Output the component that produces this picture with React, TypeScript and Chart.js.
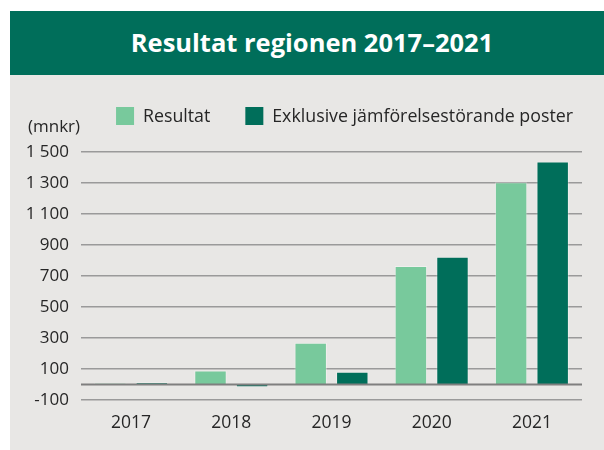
import React, { useEffect, useRef } from "react";
import { Chart, registerables } from "chart.js";

Chart.register(...registerables);

const TITLE = "Resultat regionen 2017–2021";
const UNIT_LABEL = "(mnkr)";
const CATEGORIES = ["2017", "2018", "2019", "2020", "2021"];
const SERIES_NAMES = ["Resultat", "Exklusive jämförelsestörande poster"];
const RESULTAT = [10, 90, 270, 765, 1305];
const EXKLUSIVE = [15, -18, 82, 824, 1438];
const Y_MIN = -100;
const Y_MAX = 1500;
const Y_STEP = 200;

const LIGHT = "#78c99c";
const DARK = "#006e5a";
const BG = "#e8e7e5";
const TEXT = "#262626";
const FONT = "'Open Sans', sans-serif";

const formatTick = (v: number) => {
  const s = Math.abs(v).toString();
  const withSpace = s.length > 3 ? s.slice(0, s.length - 3) + " " + s.slice(s.length - 3) : s;
  return (v < 0 ? "-" : "") + withSpace;
};

const extrasPlugin = {
  id: "extras",
  afterDatasetsDraw(chart: any) {
    const { ctx, chartArea, scales } = chart;
    const y0 = scales.y.getPixelForValue(0);
    ctx.save();
    ctx.strokeStyle = "#7f7f7f";
    ctx.lineWidth = 2;
    ctx.beginPath();
    ctx.moveTo(chartArea.left, y0);
    ctx.lineTo(chartArea.right, y0);
    ctx.stroke();
    ctx.restore();
  },
  afterDraw(chart: any) {
    const { ctx, chartArea } = chart;
    ctx.save();
    // unit label
    ctx.font = `17px ${FONT}`;
    ctx.fillStyle = TEXT;
    ctx.textAlign = "left";
    ctx.textBaseline = "middle";
    ctx.fillText(UNIT_LABEL, 18, chartArea.top - 25);

    // legend
    const fontSize = 17.8;
    ctx.font = `${fontSize}px ${FONT}`;
    const box = 18;
    const gap = 35;
    const datasets = chart.data.datasets;
    const widths = datasets.map((d: any) => box + fontSize / 2 + ctx.measureText(d.label).width);
    const total = widths.reduce((a: number, b: number) => a + b, 0) + gap * (datasets.length - 1);
    let x = chartArea.right - 9 - total;
    const top = chartArea.top - 45;
    datasets.forEach((d: any, i: number) => {
      ctx.fillStyle = d.backgroundColor;
      ctx.fillRect(x, top, box, box);
      ctx.fillStyle = TEXT;
      ctx.textBaseline = "middle";
      ctx.fillText(d.label, x + box + fontSize / 2, top + box / 2 + 0.5);
      x += widths[i] + gap;
    });
    ctx.restore();
  },
};

export default function App() {
  const ref = useRef<HTMLCanvasElement>(null);

  useEffect(() => {
    if (!ref.current) return;
    const chart = new Chart(ref.current, {
      type: "bar",
      data: {
        labels: CATEGORIES,
        datasets: [
          {
            label: SERIES_NAMES[0],
            data: RESULTAT,
            backgroundColor: LIGHT,
            borderColor: "rgba(255,255,255,0.35)",
            borderWidth: 1,
            categoryPercentage: 0.83,
            barPercentage: 0.78,
          },
          {
            label: SERIES_NAMES[1],
            data: EXKLUSIVE,
            backgroundColor: DARK,
            borderColor: "rgba(255,255,255,0.3)",
            borderWidth: 1,
            categoryPercentage: 0.83,
            barPercentage: 0.78,
          },
        ],
      },
      options: {
        responsive: false,
        animation: false,
        devicePixelRatio: 1,
        layout: { padding: { top: 77, right: 22, left: 0, bottom: 0 } },
        plugins: {
          legend: { display: false },
          tooltip: { enabled: false },
          title: { display: false },
        },
        scales: {
          x: {
            grid: { display: false, drawTicks: false },
            border: { display: false },
            ticks: {
              color: TEXT,
              font: { family: FONT, size: 17.5 },
              padding: 13,
            },
            afterFit: (s: any) => {
              s.height = 50;
            },
          },
          y: {
            min: Y_MIN,
            max: Y_MAX,
            grid: { color: "#9a9a9a", lineWidth: 1.5, drawTicks: false },
            border: { display: false },
            ticks: {
              stepSize: Y_STEP,
              color: TEXT,
              font: { family: FONT, size: 17 },
              padding: 12,
              callback: (v: any) => formatTick(Number(v)),
            },
            afterFit: (s: any) => {
              s.width = 71;
            },
          },
        },
      },
      plugins: [extrasPlugin],
    });
    return () => chart.destroy();
  }, []);

  return (
    <div style={{ position: "absolute", left: 0, top: 0, width: 604, height: 450, background: "#ffffff" }}>
      <div
        style={{
          position: "absolute",
          left: 10,
          top: 11,
          width: 594,
          height: 64,
          background: DARK,
          color: "#ffffff",
          fontFamily: FONT,
          fontWeight: 700,
          fontSize: 25.5,
          display: "flex",
          alignItems: "center",
          justifyContent: "center",
          boxSizing: "border-box",
          paddingLeft: 10,
          paddingBottom: 3,
        }}
      >
        {TITLE}
      </div>
      <div style={{ position: "absolute", left: 10, top: 75, width: 594, height: 375, background: BG }}>
        <canvas ref={ref} width={594} height={375} style={{ display: "block", width: 594, height: 375 }} />
      </div>
    </div>
  );
}
